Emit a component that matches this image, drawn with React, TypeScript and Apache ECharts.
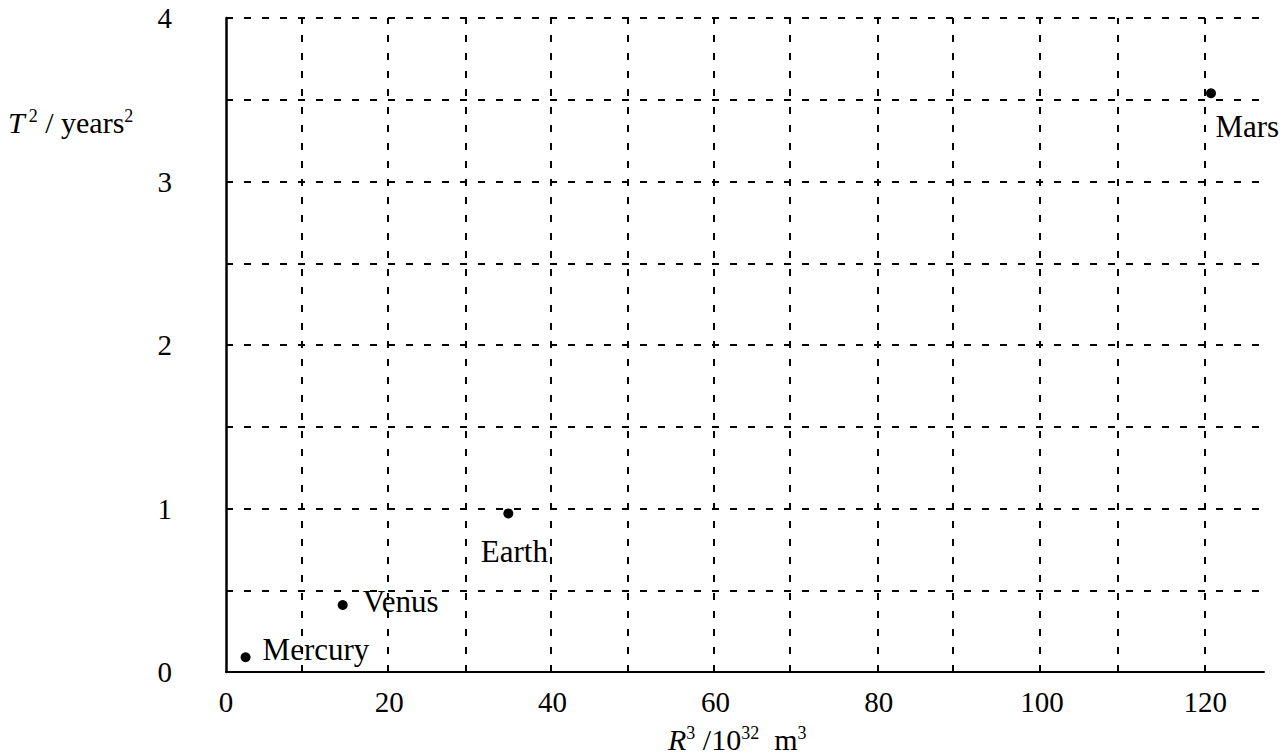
import React, { useEffect, useRef } from "react";
import * as echarts from "echarts";

// Data
const planets = ["Mercury", "Venus", "Earth", "Mars"];
const r3Values = [2.4, 14.3, 34.6, 120.7]; // R^3 / 10^32 m^3
const t2Values = [0.09, 0.41, 0.97, 3.54]; // T^2 / years^2
const xGridLines = [9.3, 19.8, 29.4, 39.8, 49.2, 59.8, 69.1, 79.9, 89.1, 99.7, 109.3, 120.0];
const xTickLabels = [0, 20, 40, 60, 80, 100, 120];
const yTickLabels = [0, 1, 2, 3, 4];

const FONT = "'Liberation Serif', 'Times New Roman', serif";

// label placement relative to the symbol's box (size 10)
const labelPlacement: Record<string, { position: [number, number]; align: string }> = {
  Mercury: { position: [22, -3], align: "left" },
  Venus: { position: [25, 2], align: "left" },
  Earth: { position: [11, 43], align: "center" },
  Mars: { position: [9.5, 38.5], align: "left" },
};

export default function App() {
  const ref = useRef<HTMLDivElement>(null);
  useEffect(() => {
    if (!ref.current) return;
    const chart = echarts.init(ref.current, null, { renderer: "svg" });
    const dashed = { type: [7, 11] as any, color: "#000", width: 2 };
    const richBase = {
      i: { fontStyle: "italic", fontSize: 30, fontFamily: FONT, fill: "#000" },
      n: { fontSize: 30, fontFamily: FONT, fill: "#000" },
      sup: { fontSize: 18, fontFamily: FONT, verticalAlign: "top", fill: "#000" },
      supT: { fontSize: 18, fontFamily: FONT, verticalAlign: "top", fill: "#000", padding: [0, 0, 0, 4] },
    };
    chart.setOption({
      animation: false,
      backgroundColor: "#fff",
      grid: { left: 226, right: 24, top: 18, bottom: 84, containLabel: false },
      xAxis: {
        type: "value",
        min: 0,
        max: 127.2,
        interval: 20,
        axisLine: { show: true, onZero: false, lineStyle: { color: "#000", width: 2 } },
        axisTick: { show: false },
        splitLine: { show: false },
        axisLabel: {
          color: "#000",
          fontSize: 29,
          fontFamily: FONT,
          margin: 15,
          formatter: (v: number) => (xTickLabels.includes(v) ? String(v) : ""),
        },
      },
      yAxis: {
        type: "value",
        min: 0,
        max: 4,
        interval: 0.5,
        axisLine: { show: true, onZero: false, lineStyle: { color: "#000", width: 2.5 } },
        axisTick: { show: false },
        splitLine: { show: true, lineStyle: dashed },
        axisLabel: {
          color: "#000",
          fontSize: 29,
          fontFamily: FONT,
          margin: 54,
          formatter: (v: number) => (yTickLabels.includes(v) ? String(v) : ""),
        },
      },
      series: [
        {
          type: "scatter",
          symbol: "circle",
          symbolSize: 10,
          itemStyle: { color: "#000", opacity: 1 },
          emphasis: { disabled: true },
          data: planets.map((name, i) => ({
            name,
            value: [r3Values[i], t2Values[i]],
            label: {
              show: true,
              formatter: name,
              position: labelPlacement[name].position,
              align: labelPlacement[name].align,
              verticalAlign: "middle",
              color: "#000",
              opacity: 1,
              fontSize: 31,
              fontFamily: FONT,
            },
          })),
          markLine: {
            silent: true,
            symbol: ["none", "none"],
            label: { show: false },
            lineStyle: { ...dashed, opacity: 1 },
            emphasis: { disabled: true },
            data: xGridLines.map((v) => ({ xAxis: v })),
          },
          z: 3,
        },
      ],
      graphic: [
        {
          type: "text",
          left: 8,
          top: 107,
          style: {
            text: "{i|T}{supT|2}{n| / years}{sup|2}",
            rich: richBase,
            fill: "#000",
          },
        },
        {
          type: "text",
          left: 668,
          top: 724,
          style: {
            text: "{i|R}{sup|3}{n| /10}{sup|32}{n|  m}{sup|3}",
            rich: richBase,
            fill: "#000",
          },
        },
      ],
    });
    return () => chart.dispose();
  }, []);
  return (
    <div
      ref={ref}
      style={{ position: "absolute", left: 0, top: 0, width: 1288, height: 756 }}
    />
  );
}
